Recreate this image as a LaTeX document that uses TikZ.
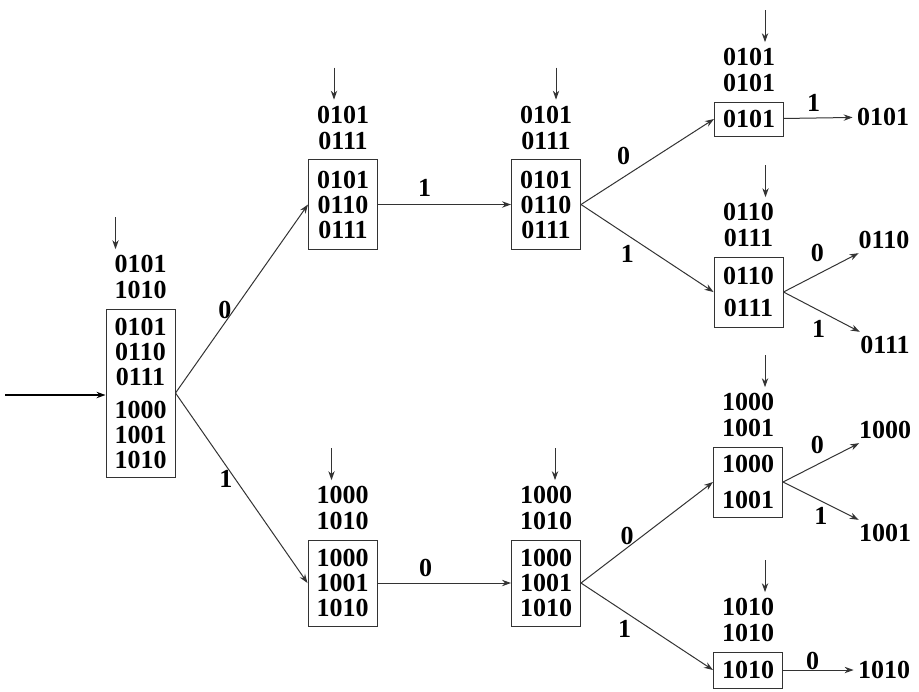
\documentclass[tikz,border=0pt]{standalone}
\usepackage{fontspec}
\setmainfont{Liberation Serif}
\usetikzlibrary{arrows.meta,positioning}

\newcommand{\bitfont}{\fontsize{13}{13}\selectfont\bfseries}

\begin{document}
\begin{tikzpicture}[x=0.5pt,y=-0.5pt,>={Stealth[length=4.5pt,width=3.2pt]},
   cell/.style={draw=black!80,line width=0.5pt,minimum width=34.5pt,inner sep=0pt,
                align=center,font=\fontsize{13}{12.5}\selectfont\bfseries},
   head/.style={align=center,inner sep=0pt,font=\bitfont},
   leaf/.style={inner sep=2pt,font=\bitfont},
   lbl/.style={inner sep=0pt,font=\bitfont},
   link/.style={->,draw=black!80,line width=0.5pt},
   feed/.style={->,draw=black!80,line width=0.5pt}]
   \useasboundingbox (0,0) rectangle (919,691);
   \node[cell,minimum height=84pt] (A) at (140.5,393)
      {0101\\0110\\0111\\[4pt]1000\\1001\\1010};
   \node[cell,minimum height=45pt] (B) at (343,204.5) {0101\\0110\\0111};
   \node[cell,minimum height=45pt] (C) at (546,204.5) {0101\\0110\\0111};
   \node[cell,minimum height=17pt] (D) at (749,119) {0101};
   \node[cell,minimum height=35pt] (E) at (748.5,292) {0110\\[3.5pt]0111};
   \node[cell,minimum height=35pt] (F) at (748,482) {1000\\[5.5pt]1001};
   \node[cell,minimum height=18pt] (G) at (748,670) {1010};
   \node[cell,minimum height=43pt] (H) at (342.5,583) {1000\\1001\\1010};
   \node[cell,minimum height=43pt] (I) at (546,583) {1000\\1001\\1010};
   \foreach \n/\ua/\ub in {A/0101/1010,B/0101/0111,C/0101/0111,D/0101/0101,
         E/0110/0111,F/1000/1001,G/1010/1010,H/1000/1010,I/1000/1010}
      \node[head,above=4.5pt of \n] (\n-h) {\ua\\\ub};
   \foreach \n/\dx in {A/-12.5,B/-4.5,C/5,D/8,E/8.5,F/8.5,G/8.5,H/-5.5,I/4.5}
      \draw[feed] ([xshift=\dx pt,yshift=19pt]\n-h.north) -- ([xshift=\dx pt,yshift=3pt]\n-h.north);
   \node[leaf] (o1) at (883,117) {0101};
   \node[leaf] (o2) at (884,240) {0110};
   \node[leaf] (o3) at (885,345) {0111};
   \node[leaf] (o4) at (885,430) {1000};
   \node[leaf] (o5) at (885,533) {1001};
   \node[leaf] (o6) at (884,670) {1010};
   \coordinate (start) at (5,395);
   \draw[->,line width=1pt] (start) -- (start -| A.west);
   \draw[link] (A.east) -- node[lbl,pos=.44,left=1pt] {0} (B.west);
   \draw[link] (A.east) -- node[lbl,pos=.45,left=1pt] {1} (H.west);
   \draw[link] (B) -- node[lbl,pos=.35,above=4pt] {1} (C);
   \draw[link] (H) -- node[lbl,pos=.36,above=3pt] {0} (I);
   \draw[link] (C.east) -- node[lbl,pos=.32,above=6pt] {0} (D.west);
   \draw[link] (C.east) -- node[lbl,pos=.35,below=5pt] {1} (E.west);
   \draw[link] (I.east) -- node[lbl,pos=.35,above=1pt] {0} (F.west);
   \draw[link] (I.east) -- node[lbl,pos=.33,below=4pt] {1} (G.west);
   \draw[link] (D) -- node[lbl,pos=.43,above=3pt] {1} (o1);
   \draw[link] (E.east) -- node[lbl,pos=.45,above=6pt] {0} (o2);
   \draw[link] (E.east) -- node[lbl,pos=.46,below=5pt] {1} (o3);
   \draw[link] (F.east) -- node[lbl,pos=.45,above=5pt] {0} (o4);
   \draw[link] (F.east) -- node[lbl,pos=.5,below=3pt] {1} (o5);
   \draw[link] (G) -- node[lbl,pos=.42,above=0pt] {0} (o6);
\end{tikzpicture}
\end{document}
